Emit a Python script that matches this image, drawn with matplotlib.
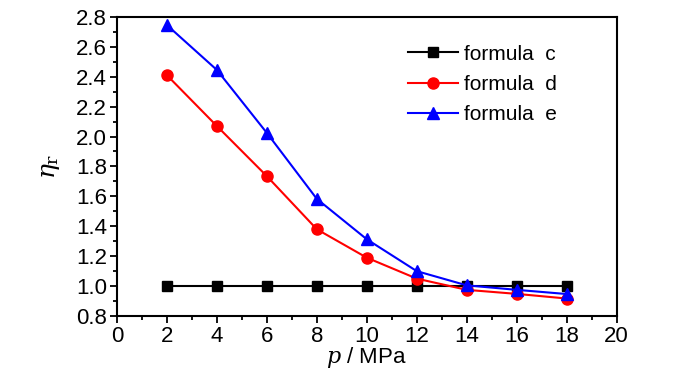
import numpy as np
import matplotlib
matplotlib.use('Agg')
import matplotlib.pyplot as plt
from matplotlib.ticker import MultipleLocator

plt.rcParams['font.family'] = ['Liberation Sans', 'DejaVu Sans']
plt.rcParams['mathtext.fontset'] = 'dejavuserif'

p = [2, 4, 6, 8, 10, 12, 14, 16, 18]
eta_c = [1.0, 1.0, 1.0, 1.0, 1.0, 1.0, 1.0, 1.0, 1.0]
eta_d = [2.41, 2.07, 1.735, 1.38, 1.19, 1.05, 0.975, 0.948, 0.917]
eta_e = [2.745, 2.445, 2.024, 1.583, 1.313, 1.10, 1.005, 0.975, 0.947]

fig = plt.figure(figsize=(7.0, 3.74), dpi=100)
ax = fig.add_axes([0.167, 0.155, 0.714, 0.8])

ax.plot(p, eta_c, color='black', marker='s', ms=7, lw=1.5, label='formula  c')
ax.plot(p, eta_d, color='red', marker='o', ms=8, lw=1.5, label='formula  d')
ax.plot(p, eta_e, color='blue', marker='^', ms=9, lw=1.5, label='formula  e')

ax.set_xlim(0, 20)
ax.set_ylim(0.8, 2.8)
ax.xaxis.set_major_locator(MultipleLocator(2))
ax.xaxis.set_minor_locator(MultipleLocator(1))
ax.yaxis.set_major_locator(MultipleLocator(0.2))
ax.yaxis.set_minor_locator(MultipleLocator(0.1))
ax.yaxis.set_major_formatter(matplotlib.ticker.FormatStrFormatter('%.1f'))
ax.tick_params(which='major', direction='out', length=5, width=1.3, labelsize=16, pad=2)
ax.tick_params(which='minor', direction='out', length=3, width=1.3)
for s in ax.spines.values():
    s.set_linewidth(1.5)

ax.set_xlabel(r'$p$ / MPa', fontsize=16, labelpad=-1)
ax.set_ylabel(r'$\eta_\mathrm{r}$', fontsize=18, labelpad=10)

ax.legend(loc='upper right', bbox_to_anchor=(0.918, 0.97), frameon=False, fontsize=15,
          handlelength=2.4, labelspacing=0.55, handletextpad=0.3)

plt.savefig('out.png', dpi=100)
